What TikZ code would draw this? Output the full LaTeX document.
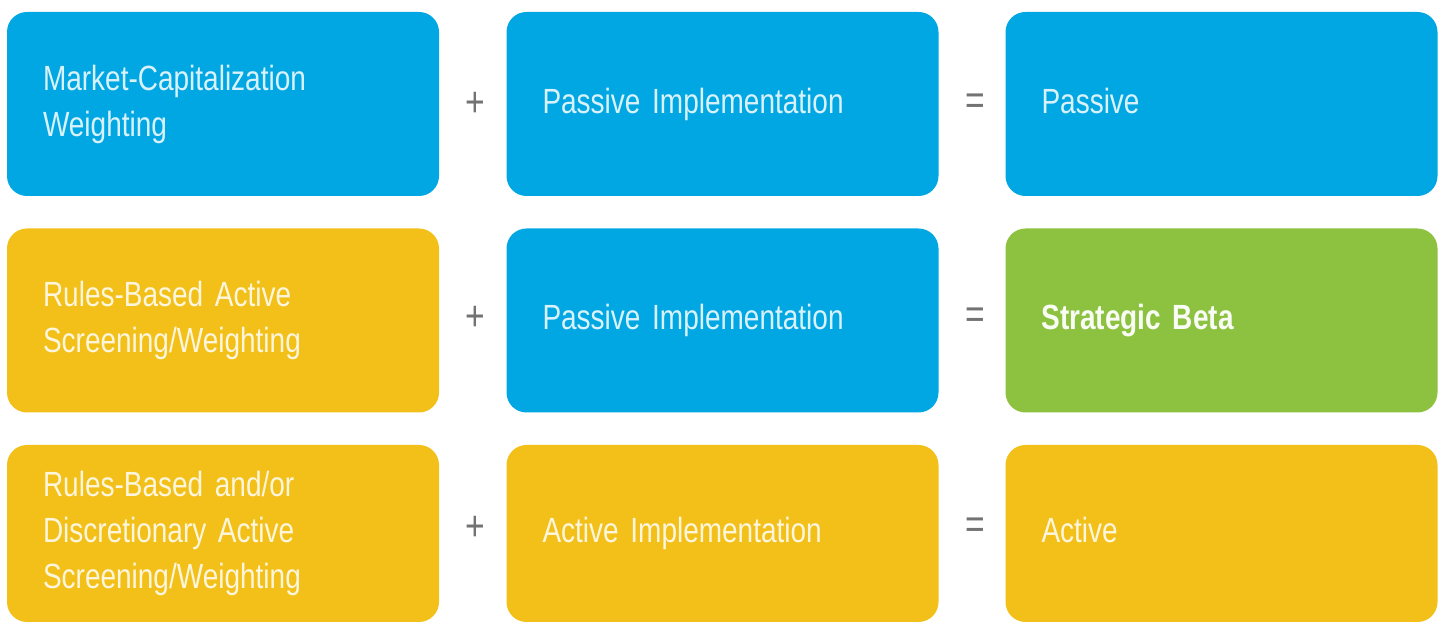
\documentclass[tikz,border=0pt]{standalone}
\usepackage{fontspec}
\setmainfont{Liberation Sans}[FakeStretch=0.8]
\usepackage{xcolor}

\definecolor{capblue}{HTML}{00A7E2}
\definecolor{ruleyellow}{HTML}{F2C018}
\definecolor{betagreen}{HTML}{8CC23F}
\definecolor{signgray}{HTML}{737373}

% box text: fixed word spaces, so ragged lines do not spread out
\newcommand{\blokfont}{\fontsize{17.5}{23}\selectfont\spaceskip=4.2pt\relax}

\begin{document}
\begin{tikzpicture}[x=0.5pt, y=-0.5pt,
    blok/.style={rectangle, rounded corners=10pt, minimum width=216pt,
                 text width=180pt, inner xsep=18pt, align=left,
                 text=white, text opacity=0.85, font=\blokfont,
                 execute at begin node=\strut, execute at end node=\strut},
    sign/.style={text=signgray, font=\fontsize{21}{21}\selectfont}]
    \useasboundingbox (0,0) rectangle (1442,624);

    % row 1
    \node[blok, fill=capblue, minimum height=92pt] (mcw) at (223,104) {Market-Capitalization\\Weighting};
    \node[blok, fill=capblue, minimum height=92pt] (pi1) at (722.5,104) {Passive Implementation};
    \node[blok, fill=capblue, minimum height=92pt] (pas) at (1221.5,104) {Passive};

    % row 2
    \node[blok, fill=ruleyellow, minimum height=92pt] (rba) at (223,320.5) {Rules-Based Active\\Screening/Weighting};
    \node[blok, fill=capblue, minimum height=92pt] (pi2) at (722.5,320.5) {Passive Implementation};
    \node[blok, fill=betagreen, minimum height=92pt, text opacity=0.95] (sbe) at (1221.5,320.5) {\bfseries Strategic Beta};

    % row 3
    \node[blok, fill=ruleyellow, minimum height=88.5pt] (rbd) at (223,533.5) {Rules-Based and/or\\Discretionary Active\\Screening/Weighting};
    \node[blok, fill=ruleyellow, minimum height=88.5pt] (aim) at (722.5,533.5) {Active Implementation};
    \node[blok, fill=ruleyellow, minimum height=88.5pt] (act) at (1221.5,533.5) {Active};

    % operators between the columns
    \foreach \row/\y in {1/104, 2/318, 3/528} {
        \node[sign] (plus\row) at (475,\y) {+};
        \node[sign] (eq\row) at (975,\y) {=};
    }
\end{tikzpicture}
\end{document}
